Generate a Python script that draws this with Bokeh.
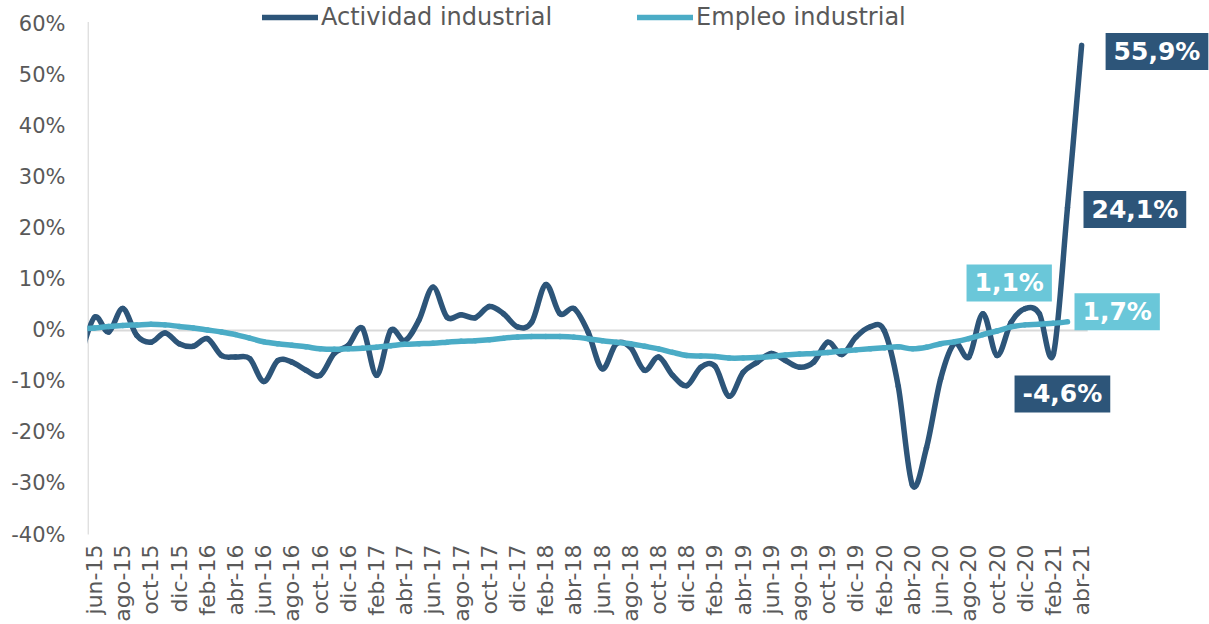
import numpy as np
from bokeh.plotting import figure
from bokeh.models import Range1d, FixedTicker, Label, Legend, LegendItem, ColumnDataSource
from bokeh.embed import file_html
from bokeh.resources import INLINE

# ---------------- data ----------------
ABBR = ["ene", "feb", "mar", "abr", "may", "jun", "jul", "ago", "sep", "oct", "nov", "dic"]
# may-15 ... abr-21 (may-15 sits just left of the axis and is clipped)
months = [f"{ABBR[(4 + k) % 12]}-{15 + (4 + k) // 12}" for k in range(72)]

actividad = [
    -5.0,                                   # may-15
    2.6, -0.3, 4.3, -1.0, -2.3, -0.5, -2.6,  # jun-15 .. dic-15
    -3.1, -1.6, -4.9, -5.2, -5.5, -10.0, -5.9, -6.2, -7.8, -8.8, -4.5, -2.9,  # 2016
    0.4, -8.8, 0.0, -2.0, 2.0, 8.5, 2.6, 3.1, 2.5, 4.7, 3.3, 0.7,             # 2017
    1.6, 9.0, 3.3, 4.3, -0.3, -7.5, -2.6, -3.3, -7.8, -5.2, -8.8, -10.8,      # 2018
    -7.2, -7.0, -12.9, -8.2, -6.2, -4.5, -5.9, -7.2, -6.2, -2.3, -4.7, -1.3,  # 2019
    0.7, 0.0, -11.0, -30.3, -23.0, -9.5, -2.5, -5.2, 3.3, -4.9, 1.6, 4.3,     # 2020
    3.3, -4.6, 24.1, 55.9,                                                   # 2021
]

empleo = [
    0.3,                                    # may-15
    0.5, 0.8, 1.0, 1.1, 1.2, 1.1, 0.8,       # jun-15 .. dic-15
    0.5, 0.1, -0.3, -0.8, -1.5, -2.2, -2.6, -2.9, -3.2, -3.6, -3.7, -3.6,     # 2016
    -3.5, -3.3, -3.0, -2.7, -2.6, -2.5, -2.3, -2.1, -2.0, -1.8, -1.5, -1.3,   # 2017
    -1.2, -1.2, -1.2, -1.3, -1.6, -2.0, -2.3, -2.6, -3.1, -3.6, -4.3, -4.9,   # 2018
    -5.0, -5.1, -5.4, -5.4, -5.3, -5.1, -4.8, -4.6, -4.5, -4.3, -4.0, -3.8,   # 2019
    -3.6, -3.4, -3.2, -3.6, -3.3, -2.6, -2.2, -1.6, -0.8, -0.1, 0.7, 1.1,     # 2020
    1.2, 1.4, 1.7,                                                           # 2021
]

y_ticks = [-40, -30, -20, -10, 0, 10, 20, 30, 40, 50, 60]
series_names = ["Actividad industrial", "Empleo industrial"]

# position of each month: jun-15 = 0
pos = [k - 1 for k in range(len(months))]

# data labels: (series, month, x offset px, y offset px, align)
label_points = [
    ("act", "abr-21", 24, -6, "left"),
    ("act", "mar-21", 16, -2, "left"),
    ("act", "feb-21", 9, -40, "center"),
    ("emp", "dic-20", -16, 42, "center"),
    ("emp", "mar-21", 7, 10, "left"),
]

DARK = "#2d5579"
LIGHT = "#4bacc6"
LIGHT_BOX = "#6ac7d9"
GRAY_TXT = "#595959"
GRID = "#d9d9d9"
FONT = "DejaVu Sans"


def bezier_source(xs, ys):
    n = len(xs)
    d = dict(x0=[], y0=[], x1=[], y1=[], cx0=[], cy0=[], cx1=[], cy1=[])
    for k in range(n - 1):
        a = max(k - 1, 0)
        b = min(k + 2, n - 1)
        d["x0"].append(xs[k]); d["y0"].append(ys[k])
        d["x1"].append(xs[k + 1]); d["y1"].append(ys[k + 1])
        d["cx0"].append(xs[k] + (xs[k + 1] - xs[a]) / 6)
        d["cy0"].append(ys[k] + (ys[k + 1] - ys[a]) / 6)
        d["cx1"].append(xs[k + 1] - (xs[b] - xs[k]) / 6)
        d["cy1"].append(ys[k + 1] - (ys[b] - ys[k]) / 6)
    return ColumnDataSource(d)


X0, X1 = -0.5, 79.07
p = figure(width=1209, height=624,
           x_range=Range1d(X0, X1), y_range=Range1d(-40, 64.7),
           output_backend="svg", toolbar_location=None,
           min_border_left=87, min_border_right=0,
           min_border_top=0, min_border_bottom=89)
p.grid.visible = False
p.outline_line_color = None
p.background_fill_color = "white"

# zero line and vertical axis line (limited to the plotted area)
p.segment(x0=[X0], y0=[0], x1=[70.43], y1=[0], line_color=GRID, line_width=2)
p.segment(x0=[-0.46], y0=[-41], x1=[-0.46], y1=[60.5], line_color=GRID, line_width=1.5)

act_src = bezier_source(pos[:len(actividad)], actividad)
emp_src = bezier_source(pos[:len(empleo)], empleo)
p.bezier(x0="x0", y0="y0", x1="x1", y1="y1", cx0="cx0", cy0="cy0", cx1="cx1", cy1="cy1",
         source=act_src, line_color=DARK, line_width=5.5, line_cap="round")
p.bezier(x0="x0", y0="y0", x1="x1", y1="y1", cx0="cx0", cy0="cy0", cx1="cx1", cy1="cy1",
         source=emp_src, line_color=LIGHT, line_width=5.5, line_cap="round")

# axes
xa = p.xaxis[0]
xa.ticker = FixedTicker(ticks=list(range(0, 71, 2)))
xa.major_label_overrides = {i: months[i + 1] for i in range(0, 71, 2)}
xa.major_label_orientation = np.pi / 2
xa.axis_line_color = None
xa.major_tick_line_color = None
xa.minor_tick_line_color = None
xa.major_tick_out = 0
xa.minor_tick_out = 0
xa.major_label_text_font = FONT
xa.major_label_text_font_size = "22px"
xa.major_label_text_color = GRAY_TXT
xa.major_label_standoff = 10

ya = p.yaxis[0]
ya.ticker = FixedTicker(ticks=y_ticks)
ya.major_label_overrides = {v: f"{v}%" for v in y_ticks}
ya.axis_line_color = None
ya.major_tick_line_color = None
ya.minor_tick_line_color = None
ya.major_tick_out = 0
ya.minor_tick_out = 0
ya.major_label_text_font = FONT
ya.major_label_text_font_size = "21px"
ya.major_label_text_color = GRAY_TXT
ya.major_label_standoff = 22

# legend (sample renderers sit outside the visible range; only their style is used)
d1 = p.line(x=[-10, -9], y=[0, 0], line_color=DARK, line_width=5.5, line_cap="round")
d2 = p.line(x=[-10, -9], y=[0, 0], line_color=LIGHT, line_width=5.5, line_cap="round")
legend = Legend(items=[LegendItem(label=series_names[0], renderers=[d1]),
                       LegendItem(label=series_names[1], renderers=[d2])],
                orientation="horizontal", location=(175, 503),
                glyph_width=56, glyph_height=20, label_standoff=3, spacing=85,
                padding=0, margin=0, border_line_color=None, background_fill_alpha=0,
                label_text_font=FONT, label_text_font_size="24px",
                label_text_color=GRAY_TXT)
p.add_layout(legend)

# data labels
for ser, month, dx, dy, align in label_points:
    k = months.index(month)
    vals = actividad if ser == "act" else empleo
    v = vals[k]
    txt = f"{v:.1f}".replace(".", ",") + "%"
    p.add_layout(Label(x=pos[k], y=v, x_offset=dx, y_offset=dy, text=txt,
                       text_align=align, text_baseline="middle",
                       text_font=FONT, text_font_size="25px", text_font_style="bold",
                       text_color="white",
                       background_fill_color=DARK if ser == "act" else LIGHT_BOX,
                       padding=dict(x=8, y=4)))

open("out.html", "w").write(file_html(p, INLINE))
